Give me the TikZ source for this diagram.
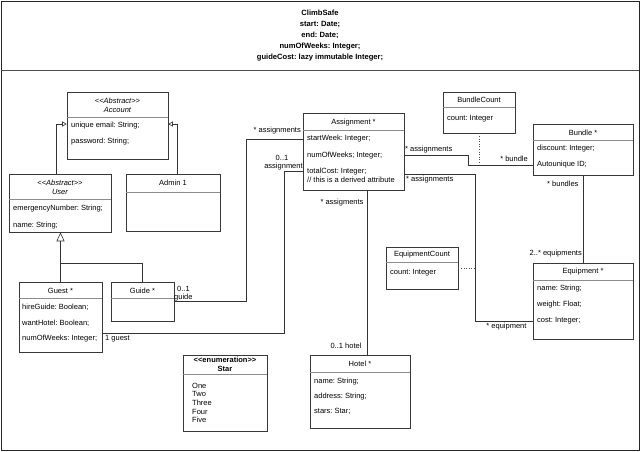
\documentclass[tikz,border=0pt]{standalone}
\usepackage{fontspec}
\setmainfont{Liberation Sans}
\usetikzlibrary{arrows.meta,fit,calc}
\frenchspacing
\newcommand\gl{<\kern0pt<}
\newcommand\gr{>\kern0pt>}
\tikzset{
  clsbox/.style={draw=black!78, line width=0.6pt, inner sep=0pt, fill=white},
  divline/.style={draw=black!45, line width=0.6pt},
  txt/.style={inner sep=0pt, font=\fontsize{7.5}{9}\selectfont},
  attr/.style={txt, anchor=west},
  conn/.style={draw=black!80, line width=0.6pt},
  gensmall/.style={conn, -{Triangle[open, length=4.5pt, width=5pt]}},
  genbig/.style={conn, -{Triangle[open, length=9pt, width=8pt]}},
  assocdot/.style={draw=black!70, line width=0.6pt, dotted},
}
\newcommand\umlclass[6]{%
  \node[clsbox, fit={(#2,#3) (#4,#5)}] (#1) {};
  \draw[divline] (#1.west |- 0,#6) -- (#1.east |- 0,#6);
}
\begin{document}
\frenchspacing
\begin{tikzpicture}[x=1pt, y=-1pt]
\useasboundingbox (0,0) rectangle (640,451);
% frame
\node[draw=black!85, line width=0.9pt, inner sep=0pt, fit={(1,1) (639,450)}] (frame) {};
\draw[draw=black!70, line width=0.8pt] (frame.west |- 0,70) -- (frame.east |- 0,70);
\node[txt, font=\fontsize{7.6}{11}\selectfont\bfseries, align=center] (title) at (320,35.5)
  {ClimbSafe\\start: Date;\\end: Date;\\numOfWeeks: Integer;\\guideCost: lazy immutable Integer;};

% classes
\umlclass{account}{67}{92}{168}{159}{117}
\node[txt, font=\fontsize{7.5}{8.5}\selectfont\itshape, align=center] (accounth) at (117.5,105.5) {\gl Abstract\gr\\Account};
\node[attr] (account1) at (71,126) {unique email: String;};
\node[attr] (account2) at (71,142) {password: String;};

\umlclass{user}{9}{174}{111}{232}{199}
\node[txt, font=\fontsize{7.5}{8.8}\selectfont\itshape, align=center] (userh) at (60,187.5) {\gl Abstract\gr\\User};
\node[attr] (user1) at (13,209) {emergencyNumber: String;};
\node[attr] (user2) at (13,226) {name: String;};

\umlclass{admin}{126}{174}{220}{231}{192}
\node[txt] (adminh) at (173,183) {Admin 1};

\umlclass{guest}{19}{282}{102}{352}{298}
\node[txt] (guesth) at (60.5,290.5) {Guest *};
\node[attr] (guest1) at (22,307) {hireGuide: Boolean;};
\node[attr] (guest2) at (22,323) {wantHotel: Boolean;};
\node[attr] (guest3) at (22,339) {numOfWeeks: Integer;};

\umlclass{guide}{111}{282}{174}{321}{298}
\node[txt] (guideh) at (142.5,290.5) {Guide *};

\umlclass{assign}{303}{113}{404}{190}{130}
\node[txt] (assignh) at (353.5,122.5) {Assignment *};
\node[attr] (assign1) at (307,139) {startWeek: Integer;};
\node[attr] (assign2) at (307,156) {numOfWeeks; Integer;};
\node[attr, align=left] (assign3) at (307,175.5) {totalCost: Integer;\\// this is a derived attribute};

\umlclass{hotel}{310}{355}{410}{428}{372}
\node[txt] (hotelh) at (360,364) {Hotel *};
\node[attr] (hotel1) at (314,382) {name: String;};
\node[attr] (hotel2) at (314,397) {address: String;};
\node[attr] (hotel3) at (314,411) {stars: Star;};

\umlclass{star}{183}{355}{267}{431}{374}
\node[txt, font=\fontsize{7.5}{9}\selectfont\bfseries, align=center] (starh) at (225,364.5) {\gl enumeration\gr\\Star};
\node[txt, font=\fontsize{7.5}{8.6}\selectfont, align=left, anchor=west] (staritems) at (192,403) {One\\Two\\Three\\Four\\Five};

\umlclass{bundlecount}{443}{92}{515}{133}{107}
\node[txt] (bundlecounth) at (479,100) {BundleCount};
\node[attr] (bundlecount1) at (447,119) {count: Integer};

\umlclass{bundle}{533}{124}{633}{175}{140}
\node[txt] (bundleh) at (583,132.5) {Bundle *};
\node[attr] (bundle1) at (537,149) {discount: Integer;};
\node[attr] (bundle2) at (537,165) {Autounique ID;};

\umlclass{equip}{533}{263}{633}{339}{280}
\node[txt] (equiph) at (583,271.5) {Equipment *};
\node[attr] (equip1) at (537,289) {name: String;};
\node[attr] (equip2) at (537,305) {weight: Float;};
\node[attr] (equip3) at (537,321) {cost: Integer;};

\umlclass{eqcount}{386}{247}{458}{289}{262}
\node[txt] (eqcounth) at (422,254.5) {EquipmentCount};
\node[attr] (eqcount1) at (390,273) {count: Integer};

% generalizations
\draw[gensmall] ([xshift=-4pt]user.north) |- (account.west |- 0,124);
\draw[gensmall] ([xshift=4pt]admin.north) |- (account.east |- 0,124);
\coordinate (genjoin) at (guest.north |- 0,263);
\draw[genbig] (guest.north) -- (guest.north |- user.south);
\draw[conn] (guide.north) |- (genjoin);

% associations
\draw[conn] (guide.east |- 0,301) -| (246,139) -- (assign.west |- 0,139);
\draw[conn] (guest.east |- 0,333) -| (284,171) -- (assign.west |- 0,171);
\draw[conn] (assign.south -| 367,0) -- (hotel.north -| 367,0);
\draw[conn] (assign.east |- 0,155) -| (468,165) -- (bundle.west |- 0,165);
\draw[conn] (assign.east |- 0,174) -| (475,321) -- (equip.west |- 0,321);
\draw[conn] (bundle.south -| 583,0) -- (equip.north -| 583,0);
\coordinate (bcend) at (479,162);
\draw[assocdot] (bundlecount.south -| bcend) -- (bcend);
\coordinate (ecend) at (475,268);
\draw[assocdot] (eqcount.east |- ecend) -- (ecend);

% labels
\node[txt, anchor=east] (l1) at (301,131) {* assignments};
\node[txt, anchor=west] (l2) at (177,289) {0..1};
\node[txt, anchor=west] (l3) at (174,297.5) {guide};
\node[txt] (l4) at (282,158) {0..1};
\node[txt] (l5) at (283.5,167) {assignment};
\node[txt, anchor=west] (l6) at (105,339) {1 guest};
\node[txt] (l7) at (342,203) {* assigments};
\node[txt] (l8) at (346,346) {0..1 hotel};
\node[txt, anchor=west] (l9) at (405,150) {* assignments};
\node[txt, anchor=east] (l10) at (528,159) {* bundle};
\node[txt, anchor=west] (l11) at (406,180) {* assignments};
\node[txt, anchor=west] (l12) at (547,184) {* bundles};
\node[txt, anchor=east] (l13) at (582,254) {2..* equipments};
\node[txt] (l14) at (506.5,327) {* equipment};
\end{tikzpicture}
\end{document}
